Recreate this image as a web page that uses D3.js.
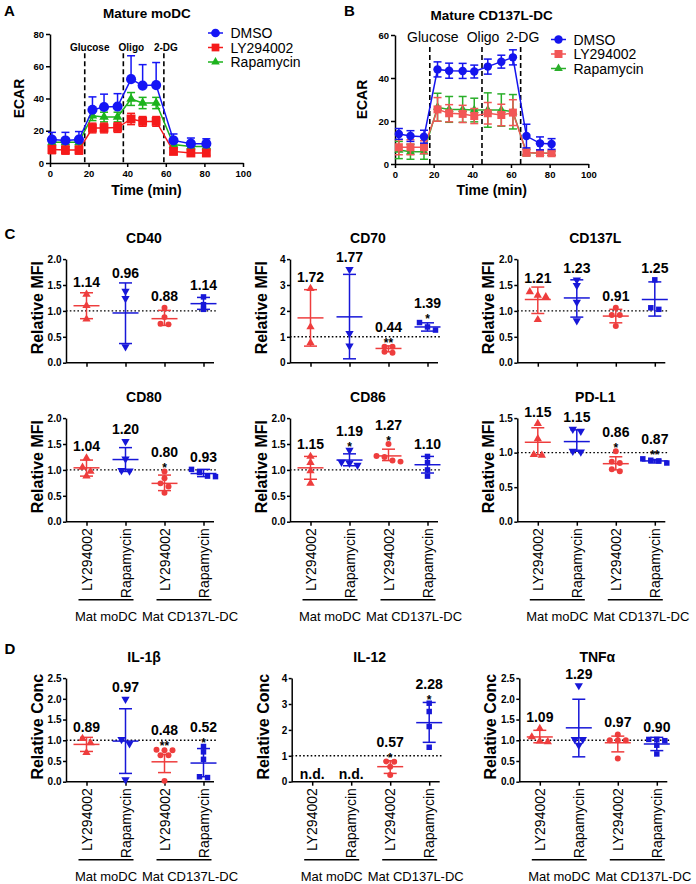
<!DOCTYPE html>
<html><head><meta charset="utf-8">
<script src="https://cdn.jsdelivr.net/npm/d3@7"></script>
<style>
body{margin:0;background:#fff}
svg{font-family:"Liberation Sans",Arial,Helvetica,sans-serif}
</style></head>
<body><svg id="c" width="696" height="884"></svg>
<script>
// ---------- Panel A / B data ----------
const timeTicks = [0,20,40,60,80,100];
const timeA = [1,8,15,22,28,35,42,48,55,64,73,81];
const dmsoA = [14.5,14,14.5,33,34.7,35,52,48,48.3,14,12,12];
const dmsoAErr = [4.5,5,5,8,8,8,14.5,13,14,4,3.5,3];
const lyA = [8.3,8,8,21.7,21.7,22,27.3,25.8,25.8,7.2,6.2,6.2];
const lyAErr = [2.5,2.5,2.5,3,3,3,3.5,3,3,2,1.5,1.5];
const rapaA = [12.8,12.8,12.8,29.3,28.5,28.5,39.7,37.2,37.2,11.4,10.3,10.3];
const rapaAErr = [2.5,2.5,2.5,3,3,3,4,3.5,3.5,2,2,2];
const ecarTicksA = [0,20,40,60,80];
const injA = [18,38,59];

const timeB = [2,8,15,22,28,35,41,48,55,61,68,75,81];
const dmsoB = [14,13,12.7,44,43.4,43.3,43,45.3,47.6,49.6,13,9.6,9.3];
const dmsoBErr = [2.5,2.5,3,3.5,3.5,3.5,3,3.5,3,3.5,5.5,3,2.5];
const lyB = [7.8,7.8,7.8,25.4,23.6,23.3,22.3,23.6,22.8,23.9,5.3,5,5];
const lyBErr = [3.5,3.5,3,5.5,4,4,3.5,5,5,6,1.5,1,1];
const rapaB = [6.5,5.7,5.7,26.4,25.4,25.4,25.1,25.1,25.1,24.3,5.3,5,5];
const rapaBErr = [4,3.5,3.5,6.5,6,6,5.5,8,7.5,8,1.5,1,1];
const ecarTicksB = [0,20,40,60];
const injB = [18,45,65];
const injNames = ["Glucose","Oligo","2-DG"];
const seriesNames = ["DMSO","LY294002","Rapamycin"];

// ---------- Panels C / D data ----------
const catNames = ["LY294002","Rapamycin","LY294002","Rapamycin"];
const groupNames = ["Mat moDC","Mat CD137L-DC"];

const ticks2 = [0,0.5,1,1.5,2];
const ticks4 = [0,1,2,3,4];
const ticks15 = [0,0.5,1,1.5];
const ticks25 = [0,0.5,1,1.5,2,2.5];

const cd40Pts = [[1.32,1.10,0.84],[1.38,1.24,0.31],[1.06,0.88,0.75,0.74],[1.27,1.12,1.03]];
const cd40Mean = [1.10,0.96,0.85,1.14];
const cd40Lo = [0.85,0.37,0.72,1.03];
const cd40Hi = [1.35,1.54,1.01,1.26];
const cd40Lab = ["1.14","0.96","0.88","1.14"];
const cd40Sig = ["","","",""];

const cd70Pts = [[2.86,1.38,0.77],[3.60,1.13,0.65],[0.62,0.62,0.42,0.38],[1.55,1.38,1.26]];
const cd70Mean = [1.73,1.77,0.55,1.38];
const cd70Lo = [0.64,0.15,0.42,1.22];
const cd70Hi = [2.82,3.41,0.65,1.54];
const cd70Lab = ["1.72","1.77","0.44","1.39"];
const cd70Sig = ["","","**","*"];

const cd137Pts = [[1.30,1.27,1.37,0.83],[1.49,1.60,1.17,0.81],[0.92,1.06,0.92,0.71],[1.60,1.03,1.06]];
const cd137Mean = [1.22,1.25,0.90,1.22];
const cd137Lo = [0.95,0.88,0.77,0.90];
const cd137Hi = [1.46,1.60,1.03,1.56];
const cd137Lab = ["1.21","1.23","0.91","1.25"];
const cd137Sig = ["","","",""];

const cd80Pts = [[1.23,1.05,0.97,0.88],[1.55,1.21,0.99,0.98],[0.97,0.84,0.74,0.68,0.56],[1.01,0.95,0.88,0.87]];
const cd80Mean = [1.04,1.20,0.74,0.93];
const cd80Lo = [0.88,0.97,0.60,0.87];
const cd80Hi = [1.19,1.43,0.90,1.01];
const cd80Lab = ["1.04","1.20","0.80","0.93"];
const cd80Sig = ["","","*",""];

const cd86Pts = [[1.26,1.14,0.98,0.74],[1.38,1.15,1.09,1.13],[1.50,1.27,1.25,1.18,1.16],[1.26,1.14,1.00,0.88]];
const cd86Mean = [1.04,1.19,1.27,1.10];
const cd86Lo = [0.82,1.08,1.18,0.94];
const cd86Hi = [1.26,1.31,1.40,1.26];
const cd86Lab = ["1.15","1.19","1.27","1.10"];
const cd86Sig = ["","*","*",""];

const pdl1Pts = [[1.42,1.20,0.97,0.96],[1.34,1.31,1.02,1.01],[1.02,0.87,0.85,0.76,0.73],[0.91,0.88,0.85,0.89]];
const pdl1Mean = [1.15,1.16,0.84,0.88];
const pdl1Lo = [0.97,1.02,0.75,0.85];
const pdl1Hi = [1.36,1.33,0.94,0.90];
const pdl1Lab = ["1.15","1.15","0.86","0.87"];
const pdl1Sig = ["","","*","**"];

const il1Pts = [[1.04,0.94,0.70],[1.99,1.02,0.92,0.05],[0.76,0.77,0.76,0.64,0.64,0.02],[0.85,0.72,0.54,0.12,0.10]];
const il1Mean = [0.90,0.98,0.48,0.45];
const il1Lo = [0.73,0.20,0.22,0.12];
const il1Hi = [1.07,1.76,0.66,0.80];
const il1Lab = ["0.89","0.97","0.48","0.52"];
const il1Sig = ["","","**","*"];

const il12Pts = [[],[],[0.77,0.78,0.58,0.26],[3.03,2.71,2.13,1.33]];
const il12Mean = [null,null,0.58,2.28];
const il12Lo = [null,null,0.32,1.52];
const il12Hi = [null,null,0.81,3.06];
const il12Lab = ["n.d.","n.d.","0.57","2.28"];
const il12Sig = ["","","*","*"];

const tnfPts = [[1.28,1.08,0.98,0.96],[2.32,1.02,1.02,0.88],[1.14,1.00,1.00,1.00,0.56],[1.02,1.02,0.99,0.88,0.67]];
const tnfMean = [1.08,1.30,0.94,0.91];
const tnfLo = [0.94,0.60,0.72,0.75];
const tnfHi = [1.24,1.99,1.10,1.07];
const tnfLab = ["1.09","1.29","0.97","0.90"];
const tnfSig = ["","","",""];

// ---------- drawing ----------
const svg = d3.select("#c");
const RED = "#ee3d3d", BLUE = "#1717d8";

function styleAxis(g, fs){
  g.selectAll("path.domain").attr("stroke","#000").attr("stroke-width",1.5);
  g.selectAll(".tick line").attr("stroke","#000").attr("stroke-width",1.5);
  g.selectAll(".tick text").attr("fill","#000").attr("font-weight","bold").attr("font-size",fs).attr("font-family","Liberation Sans, Arial, sans-serif");
}

function bold(t,x,y,fs,anchor){
  return svg.append("text").attr("x",x).attr("y",y).attr("font-size",fs).attr("font-weight","bold")
    .attr("text-anchor",anchor||"middle").attr("fill","#000").text(t);
}

function sym(type, size){
  return d3.symbol().type(type).size(size)();
}

function linePanel(o){
  const x = d3.scaleLinear().domain([0,100]).range([o.left,o.right]);
  const y = d3.scaleLinear().domain([0,o.yMax]).range([o.bottom,o.top]);
  const g = svg.append("g");
  const ax = g.append("g").attr("transform",`translate(0,${o.bottom})`)
    .call(d3.axisBottom(x).tickValues(timeTicks).tickSize(4).tickSizeOuter(0).tickPadding(3));
  styleAxis(ax,"9.5px");
  const ay = g.append("g").attr("transform",`translate(${o.left},0)`)
    .call(d3.axisLeft(y).tickValues(o.yTicks).tickSize(4).tickSizeOuter(0).tickPadding(2));
  styleAxis(ay,"9.5px");
  o.inj.forEach((t,i)=>{
    g.append("line").attr("x1",x(t)).attr("x2",x(t)).attr("y1",y(o.dashTop)).attr("y2",y(0))
      .attr("stroke","#000").attr("stroke-width",1.6).attr("stroke-dasharray","5,3");
    g.append("text").attr("x",x(t)+o.injShift[i]).attr("y",o.injY).attr("text-anchor","middle")
      .attr("font-size",o.injFs).attr("font-weight",o.injBold?"bold":"normal").text(injNames[i]);
  });
  o.series.forEach(s=>{
    const pts = s.t.map((t,i)=>({t,v:s.v[i],e:s.e[i]}));
    g.append("path").datum(pts).attr("fill","none").attr("stroke",s.color).attr("stroke-width",1.5)
      .attr("d",d3.line().x(d=>x(d.t)).y(d=>y(d.v)));
    pts.forEach(d=>{
      const lo = s.upOnly ? d.v : d.v-d.e, hi = d.v+d.e;
      g.append("line").attr("x1",x(d.t)).attr("x2",x(d.t)).attr("y1",y(lo)).attr("y2",y(hi)).attr("stroke",s.color).attr("stroke-width",1.5);
      g.append("line").attr("x1",x(d.t)-4).attr("x2",x(d.t)+4).attr("y1",y(hi)).attr("y2",y(hi)).attr("stroke",s.color).attr("stroke-width",1.5);
      if(!s.upOnly) g.append("line").attr("x1",x(d.t)-4).attr("x2",x(d.t)+4).attr("y1",y(lo)).attr("y2",y(lo)).attr("stroke",s.color).attr("stroke-width",1.5);
      g.append("path").attr("d",sym(s.shape,s.size)).attr("transform",`translate(${x(d.t)},${y(d.v)})`).attr("fill",s.color);
    });
  });
  o.legend.forEach((s,i)=>{
    const ly = o.legY + i*o.legDy;
    g.append("line").attr("x1",o.legX-7.5).attr("x2",o.legX+7.5).attr("y1",ly).attr("y2",ly).attr("stroke",s.color).attr("stroke-width",1.5);
    g.append("path").attr("d",sym(s.shape,s.size)).attr("transform",`translate(${o.legX},${ly})`).attr("fill",s.color);
    g.append("text").attr("x",o.legX+15).attr("y",ly+5).attr("font-size","14px").text(seriesNames[s.idx]);
  });
  bold(o.title,o.titleX,o.titleY,"13.5px");
  bold(o.letter,o.letterX,15.5,"15px","start");
  svg.append("text").attr("transform",`translate(${o.ylabX},${(o.top+o.bottom)/2}) rotate(-90)`)
    .attr("text-anchor","middle").attr("dominant-baseline","central").attr("font-size","14px").attr("font-weight","bold").text("ECAR");
  bold("Time (min)",(o.left+o.right)/2,195,"14px");
}

const blueA = {idx:0,color:"#1515f5",shape:d3.symbolCircle,size:80};
const redA = {idx:1,color:"#f51a1a",shape:d3.symbolSquare,size:78};
const greenA = {idx:2,color:"#1db31d",shape:d3.symbolTriangle,size:40};

linePanel({left:50,right:243,bottom:163,top:34,yMax:80,yTicks:ecarTicksA,inj:injA,dashTop:68,
  injShift:[5,8,2],injY:50.5,injFs:"10px",injBold:true,
  series:[
    Object.assign({},greenA,{t:timeA,v:rapaA,e:rapaAErr}),
    Object.assign({},redA,{t:timeA,v:lyA,e:lyAErr}),
    Object.assign({},blueA,{t:timeA,v:dmsoA,e:dmsoAErr,upOnly:true})],
  legend:[Object.assign({},blueA,{size:60}),Object.assign({},redA,{size:60}),Object.assign({},greenA,{size:32})],
  legX:215.5,legY:33,legDy:14.5,title:"Mature moDC",titleX:147,titleY:18,letter:"A",letterX:4,ylabX:18.5});

const blueB = {idx:0,color:"#1414ee",shape:d3.symbolCircle,size:56};
const redB = {idx:1,color:"#f25656",shape:d3.symbolSquare,size:64};
const greenB = {idx:2,color:"#2aae2a",shape:d3.symbolTriangle,size:36};

linePanel({left:395,right:588.3,bottom:164,top:35,yMax:60,yTicks:ecarTicksB,inj:injB,dashTop:54.4,
  injShift:[3,1,2],injY:42,injFs:"14px",injBold:false,
  series:[
    Object.assign({},greenB,{t:timeB,v:rapaB,e:rapaBErr}),
    Object.assign({},redB,{t:timeB,v:lyB,e:lyBErr}),
    Object.assign({},blueB,{t:timeB,v:dmsoB,e:dmsoBErr})],
  legend:[blueB,redB,Object.assign({},greenB,{size:32})],
  legX:558.5,legY:39.5,legDy:14.5,title:"Mature CD137L-DC",titleX:491.7,titleY:19.7,letter:"B",letterX:344,ylabX:361.7});

// ---------- dot plots ----------
const shapes = [
  {type:d3.symbolTriangle,rot:0,size:30,color:RED},
  {type:d3.symbolTriangle,rot:180,size:30,color:BLUE},
  {type:d3.symbolCircle,rot:0,size:28,color:RED},
  {type:d3.symbolSquare,rot:0,size:30,color:BLUE}];

function swarm(vals,y,thr,sp){
  const idx = vals.map((v,i)=>i).sort((a,b)=>vals[b]-vals[a]);
  const clusters=[]; let cur=[];
  idx.forEach(i=>{
    if(cur.length && Math.abs(y(vals[cur[cur.length-1]])-y(vals[i]))<thr) cur.push(i);
    else { if(cur.length) clusters.push(cur); cur=[i]; }
  });
  if(cur.length) clusters.push(cur);
  const off = new Array(vals.length).fill(0);
  clusters.forEach(c=>c.forEach((i,k)=>off[i]=(k-(c.length-1)/2)*sp));
  return off;
}

function dotPanel(o){
  const y = d3.scaleLinear().domain([0,o.ticks[o.ticks.length-1]]).range([o.y0,o.y0-103.6]);
  const xs = catNames.map((c,i)=>o.ax+20.5+i*39);
  const g = svg.append("g");
  g.append("line").attr("x1",o.ax).attr("x2",o.ax+150).attr("y1",y(1)).attr("y2",y(1))
    .attr("stroke","#000").attr("stroke-width",1.4).attr("stroke-dasharray","1.6,2.2");
  const xsc = d3.scaleOrdinal().domain(d3.range(4)).range(xs);
  const axx = g.append("g").attr("transform",`translate(0,${o.y0})`)
    .call(d3.axisBottom(xsc).tickValues(d3.range(4)).tickSize(4).tickSizeOuter(0).tickFormat(""));
  axx.select("path.domain").attr("d",`M${o.ax},0H${o.ax+148}`);
  styleAxis(axx,"10px");
  const axy = g.append("g").attr("transform",`translate(${o.ax},0)`)
    .call(d3.axisLeft(y).tickValues(o.ticks).tickSize(3).tickSizeOuter(0).tickPadding(1.5).tickFormat(d3.format(o.fmt)));
  styleAxis(axy,"10px");
  xs.forEach((cx,i)=>{
    const sh = shapes[i];
    const pts = o.pts[i];
    if(o.mean[i]!=null){
      const lo=y(o.lo[i]), hi=y(o.hi[i]), m=y(o.mean[i]);
      const L=(x1,x2,y1,y2)=>g.append("line").attr("x1",x1).attr("x2",x2).attr("y1",y1).attr("y2",y2)
        .attr("stroke",sh.color).attr("stroke-width",1.5);
      L(cx,cx,lo,hi); L(cx-6.5,cx+6.5,lo,lo); L(cx-6.5,cx+6.5,hi,hi); L(cx-13,cx+13,m,m);
    }
    const off = swarm(pts,y,4.5,8);
    pts.forEach((v,k)=>{
      g.append("path").attr("d",sym(sh.type,sh.size))
        .attr("transform",`translate(${cx+off[k]},${y(v)}) rotate(${sh.rot})`).attr("fill",sh.color);
    });
    if(o.lab[i]==="n.d."){
      bold("n.d.",cx,o.y0-2.4,"14px");
    } else {
      const top = Math.min(y(o.hi[i]), d3.min(pts,v=>y(v))-2.5);
      if(o.sig[i]){
        bold(o.sig[i],cx,top+3,"12px");
        bold(o.lab[i],cx,top-12,"14px");
      } else {
        bold(o.lab[i],cx,top-4.5,"14px");
      }
    }
  });
  bold(o.title,o.ax+78,o.y0-120,"14px");
  svg.append("text").attr("transform",`translate(${o.ax-28.5},${o.y0-55}) rotate(-90)`)
    .attr("text-anchor","middle").attr("dominant-baseline","central").attr("font-size","16px").attr("font-weight","bold").text(o.ylab);
  if(o.cats){
    xs.forEach((cx,i)=>{
      svg.append("text").attr("transform",`translate(${cx},${o.y0+6.5}) rotate(-90)`)
        .attr("text-anchor","end").attr("dominant-baseline","central").attr("font-size","14px").text(catNames[i]);
    });
    [[0,1,0],[2,3,6]].forEach(([a,b,sh],k)=>{
      g.append("line").attr("x1",xs[a]-8).attr("x2",xs[b]+8).attr("y1",o.y0+78).attr("y2",o.y0+78)
        .attr("stroke","#000").attr("stroke-width",1.5);
      svg.append("text").attr("x",(xs[a]+xs[b])/2+sh).attr("y",o.y0+99.6).attr("text-anchor","middle")
        .attr("font-size","13px").text(groupNames[k]);
    });
  }
}

const r1 = 362.7, r2 = 521.7, r3 = 781.7;
dotPanel({ax:66,y0:r1,ticks:ticks2,fmt:".1f",pts:cd40Pts,mean:cd40Mean,lo:cd40Lo,hi:cd40Hi,lab:cd40Lab,sig:cd40Sig,title:"CD40",ylab:"Relative MFI"});
dotPanel({ax:290,y0:r1,ticks:ticks4,fmt:"d",pts:cd70Pts,mean:cd70Mean,lo:cd70Lo,hi:cd70Hi,lab:cd70Lab,sig:cd70Sig,title:"CD70",ylab:"Relative MFI"});
dotPanel({ax:517.3,y0:r1,ticks:ticks2,fmt:".1f",pts:cd137Pts,mean:cd137Mean,lo:cd137Lo,hi:cd137Hi,lab:cd137Lab,sig:cd137Sig,title:"CD137L",ylab:"Relative MFI"});
dotPanel({ax:66,y0:r2,ticks:ticks2,fmt:".1f",pts:cd80Pts,mean:cd80Mean,lo:cd80Lo,hi:cd80Hi,lab:cd80Lab,sig:cd80Sig,title:"CD80",ylab:"Relative MFI",cats:true});
dotPanel({ax:290,y0:r2,ticks:ticks2,fmt:".1f",pts:cd86Pts,mean:cd86Mean,lo:cd86Lo,hi:cd86Hi,lab:cd86Lab,sig:cd86Sig,title:"CD86",ylab:"Relative MFI",cats:true});
dotPanel({ax:517.3,y0:r2,ticks:ticks15,fmt:".1f",pts:pdl1Pts,mean:pdl1Mean,lo:pdl1Lo,hi:pdl1Hi,lab:pdl1Lab,sig:pdl1Sig,title:"PD-L1",ylab:"Relative MFI",cats:true});
dotPanel({ax:66,y0:r3,ticks:ticks25,fmt:".1f",pts:il1Pts,mean:il1Mean,lo:il1Lo,hi:il1Hi,lab:il1Lab,sig:il1Sig,title:"IL-1β",ylab:"Relative Conc",cats:true});
dotPanel({ax:291.7,y0:r3,ticks:ticks4,fmt:"d",pts:il12Pts,mean:il12Mean,lo:il12Lo,hi:il12Hi,lab:il12Lab,sig:il12Sig,title:"IL-12",ylab:"Relative Conc",cats:true});
dotPanel({ax:519.3,y0:r3,ticks:ticks25,fmt:".1f",pts:tnfPts,mean:tnfMean,lo:tnfLo,hi:tnfHi,lab:tnfLab,sig:tnfSig,title:"TNFα",ylab:"Relative Conc",cats:true});

bold("C",4.5,238.5,"15px","start");
bold("D",4.5,653.5,"15px","start");
</script>
</body></html>
